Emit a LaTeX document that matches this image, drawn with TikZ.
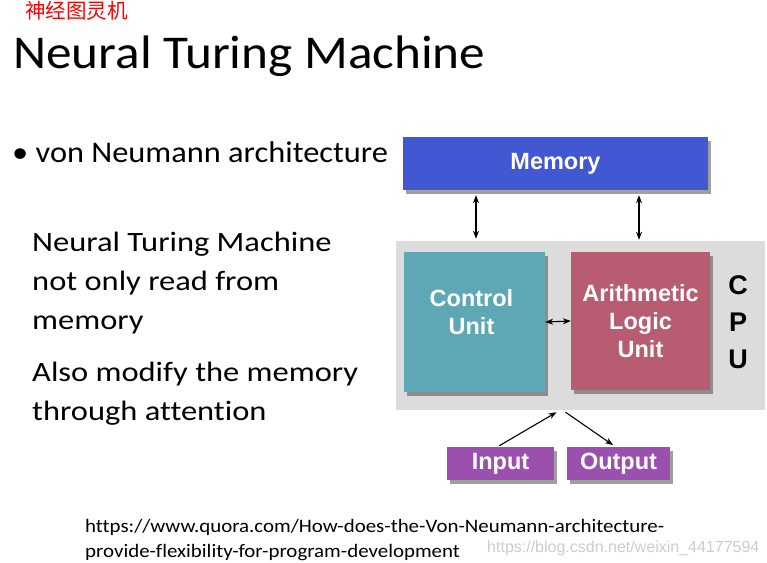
\documentclass[tikz,border=0pt]{standalone}
\usepackage{fontspec}
\setmainfont{Carlito}
\newfontfamily\titlefont{Carlito}[FakeStretch=1.09]
\newfontfamily\bulletfont{Carlito}[FakeStretch=1.08]
\newfontfamily\bodyfont{Carlito}[FakeStretch=1.16, Ligatures=NoCommon]
\newfontfamily\urlfont{Carlito}[FakeStretch=1.10, Ligatures=NoCommon]
\newfontfamily\boxfont{Liberation Sans}
\newfontfamily\cjk{Noto Sans CJK SC}
\usetikzlibrary{positioning}
\usetikzlibrary{arrows.meta,shadows}
\definecolor{memblue}{RGB}{66,88,210}
\definecolor{cuteal}{RGB}{94,167,180}
\definecolor{alurose}{RGB}{184,92,114}
\definecolor{iopurple}{RGB}{155,80,175}
\definecolor{cpugray}{RGB}{220,220,220}
\tikzset{
    boxtext/.style={
        text=white, align=center, inner sep=0,
        font=\boxfont\bfseries\fontsize{23.5}{28}\selectfont
    },
    unit/.style={
        boxtext, draw=none,
        drop shadow={shadow xshift=3pt, shadow yshift=-4pt, fill=black!75}
    },
    link/.style={{Stealth[length=8pt,width=6pt]}-{Stealth[length=8pt,width=6pt]}, line width=1.1pt},
    flow/.style={-{Stealth[length=8pt,width=6pt]}, line width=1.1pt},
    slide/.style={anchor=base west, align=left, inner sep=0, font=\bodyfont\fontsize{28}{39}\selectfont}
}

\begin{document}
\begin{tikzpicture}[x=1pt,y=-1pt]
    \useasboundingbox (0,0) rectangle (767,562);

    \node[red, anchor=base west, inner sep=0, font=\cjk\fontsize{20.5}{20.5}\selectfont] (CHN) at (25,18) {神经图灵机};
    \node[anchor=base west, inner sep=0, font=\titlefont\fontsize{47}{47}\selectfont] (TITLE) at (13,68) {Neural Turing Machine};
    \node[anchor=base west, inner sep=0, font=\bulletfont\fontsize{30}{30}\selectfont] (BULLET) at (12,162) {\textbullet\ von Neumann architecture};
    % multi-line nodes sit on their last line
    \node[slide] (NTM) at (32,329) {Neural Turing Machine\\not only read from\\memory};
    \node[slide] (ALSO) at (32,420) {Also modify the memory\\through attention};

    % the cpu picture
    \node[fill=cpugray, minimum width=369, minimum height=169] (CPU) at (580.5,325.5) {};
    \node[unit, fill=memblue, minimum width=305, minimum height=53] (MEM) at (555.5,163.5) {Memory};
    \node[unit, fill=cuteal, minimum width=141, minimum height=140] (CU) at (474.5,322) {};
    \node[boxtext] (CUTXT) at (471.5,312) {Control\\Unit};
    \node[unit, fill=alurose, minimum width=139, minimum height=138] (ALU) at (640.5,321) {Arithmetic\\Logic\\Unit};
    \node[align=center, inner sep=0, font=\boxfont\bfseries\fontsize{27}{37}\selectfont] (CPUTXT) at (738,322) {C\\P\\U};
    \node[unit, fill=iopurple, minimum width=107, minimum height=33] (INPUT) at (500.5,463.5) {Input};
    \node[unit, fill=iopurple, minimum width=103, minimum height=33] (OUTPUT) at (618.5,463.5) {Output};

    \draw[link, shorten <=5pt, shorten >=2pt] (MEM.south -| 476,0) -- (CPU.north -| 476,0);
    \draw[link, shorten <=5pt, shorten >=1pt] (MEM.south -| 639,0) -- (CPU.north -| 639,0);
    \draw[link] (CU.east) -- (ALU.west);
    \draw[flow, shorten <=2pt] ([xshift=-3pt]INPUT.north) -- ([xshift=-24pt, yshift=-2pt]CPU.south);
    \draw[flow, shorten >=3pt] ([xshift=-15pt, yshift=-2pt]CPU.south) -- ([xshift=-3pt]OUTPUT.north);

    \node[anchor=base west, align=left, inner sep=0, font=\urlfont\fontsize{19}{25}\selectfont] (URL) at (85,557) {https://www.quora.com/How-does-the-Von-Neumann-architecture-\\provide-flexibility-for-program-development};
    \node[gray!40, anchor=base west, inner sep=0, font=\boxfont\fontsize{16}{16}\selectfont] (MARK) at (487,552) {https://blog.csdn.net/weixin\_44177594};
\end{tikzpicture}
\end{document}
